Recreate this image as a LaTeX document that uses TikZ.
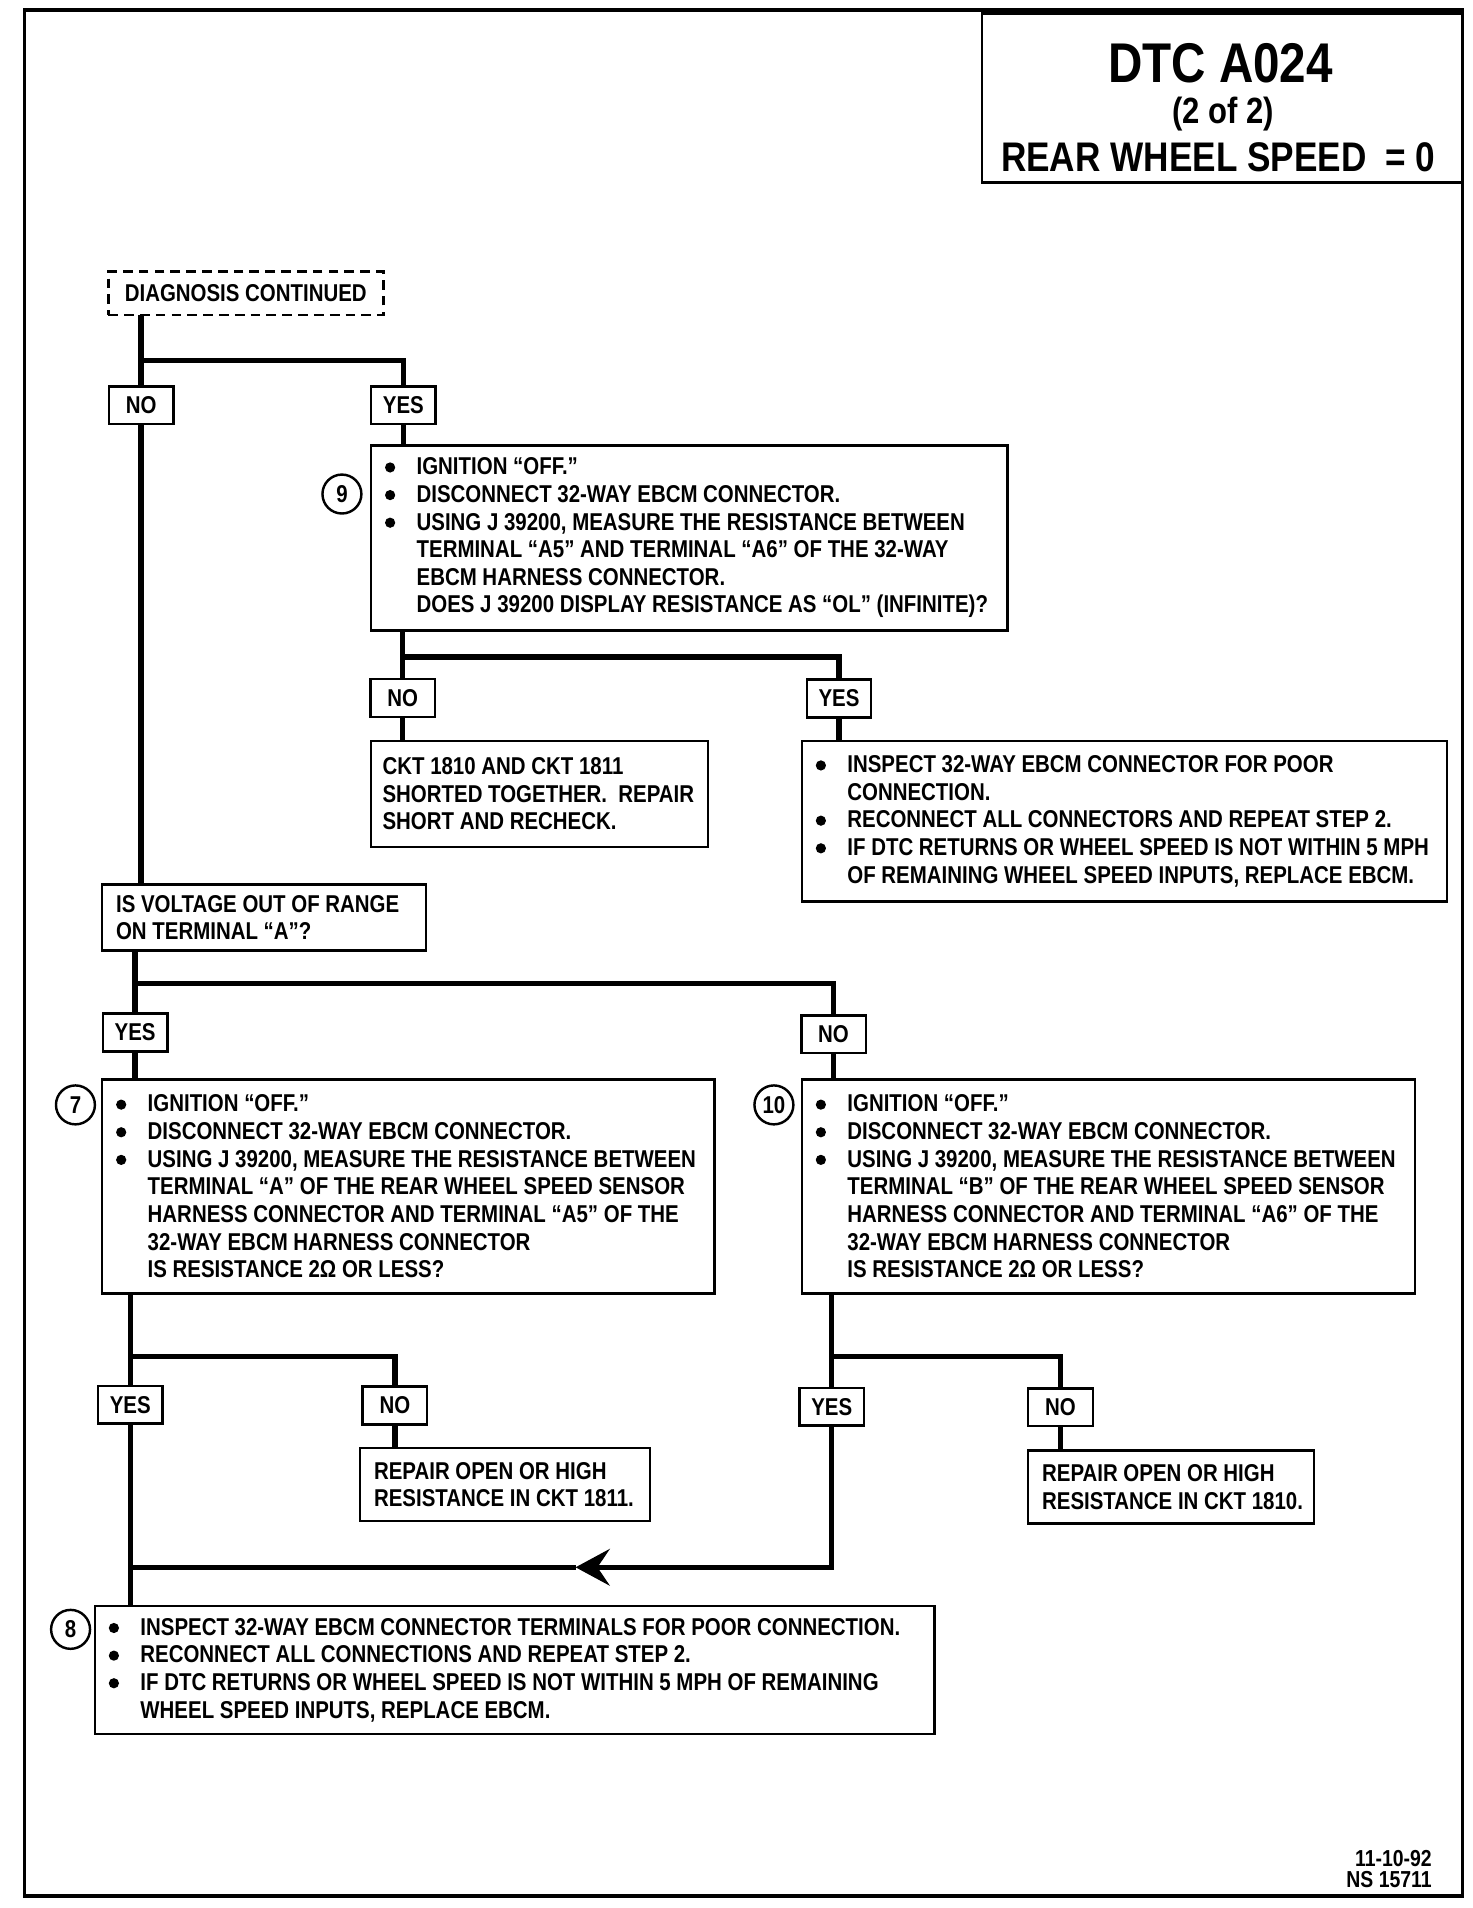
\documentclass[tikz,border=0pt]{standalone}
\usepackage{fontspec}
\newfontfamily\bodyf[FakeStretch=0.84]{Liberation Sans}
\newfontfamily\titlef[FakeStretch=0.85]{Liberation Sans}
\usetikzlibrary{arrows.meta}
\newcommand\bul{\makebox[13pt][l]{\tikz[baseline=0pt]\fill (2.2pt,3pt) circle (2.1pt);}}
\newcommand\indt{\hspace*{13pt}}
\newcommand\mkbox[5]{\node[box, minimum width={(#4-#2)*0.5pt}, minimum height={(#5-#3)*0.5pt}] (#1) at (#2,#3) {};}
\begin{document}
\begin{tikzpicture}[x=0.5pt,y=-0.5pt,
  every node/.style={font=\bodyf\bfseries\fontsize{10}{11.35}\selectfont},
  box/.style={draw, line width=1pt, inner sep=0pt, outer sep=0pt, anchor=north west},
  txt/.style={inner sep=0pt, align=left, anchor=west},
  lbl/.style={draw, line width=1pt, inner sep=0pt, outer sep=0pt, minimum width=26.5pt, minimum height=15.5pt},
  num/.style={draw, circle, line width=1pt, minimum size=16pt, inner sep=0pt},
  conn/.style={line width=2.2pt},
  ttl/.style={font=\titlef\bfseries\fontsize{#1}{#1}\selectfont, inner sep=0pt},
]
\useasboundingbox (0,0) rectangle (1210,1568);
% frame
\draw[line width=1.5pt] (20,8) rectangle (1202,1558);
% title
\mkbox{title}{807}{11}{1202}{150}
\node[ttl=23] (t1) at (1003,52) {DTC A024};
\node[ttl=15] (t2) at (1005,94) {(2 of 2)};
\node[ttl=17] (t3) at (1001,129) {REAR WHEEL SPEED\hspace{0.45em}= 0};
% diagnosis continued
\node[box, dashed, dash pattern=on 4pt off 2.5pt, minimum width=113pt, minimum height=18pt] (dc) at (89,223) {DIAGNOSIS CONTINUED};
% labels
\node[lbl] (no1) at (116,333) {NO};
\node[lbl] (yes1) at (331.5,333) {YES};
\node[lbl] (no2) at (331,573.5) {NO};
\node[lbl] (yes2) at (689.5,574) {YES};
\node[lbl] (yes3) at (111,848.5) {YES};
\node[lbl] (no3) at (685,850) {NO};
\node[lbl] (yes4) at (107,1154.5) {YES};
\node[lbl] (no4) at (324.5,1155) {NO};
\node[lbl] (yes5) at (683.5,1156) {YES};
\node[lbl] (no5) at (871.5,1156.5) {NO};
% boxes
\mkbox{s9}{305}{366}{828}{518}
\mkbox{r1}{305}{609}{582}{696}
\mkbox{r2}{659}{609}{1189}{741}
\mkbox{q}{84}{727}{350}{781}
\mkbox{s7}{84}{887}{587}{1063}
\mkbox{s10}{659}{887}{1163}{1063}
\mkbox{r3}{296}{1190}{534}{1250}
\mkbox{r4}{845}{1192}{1080}{1252}
\mkbox{s8}{78}{1320}{768}{1425}
% numbers
\node[num] (c9) at (281,406) {9};
\node[num] (c7) at (62,908) {7};
\node[num] (c10) at (636,908) {10};
\node[num] (c8) at (58,1339) {8};
% texts
\node[txt] (s9t) at ([xshift=5.5pt]s9.west) {\bul IGNITION “OFF.”\\
\bul DISCONNECT 32-WAY EBCM CONNECTOR.\\
\bul USING J 39200, MEASURE THE RESISTANCE BETWEEN\\
\indt TERMINAL “A5” AND TERMINAL “A6” OF THE 32-WAY\\
\indt EBCM HARNESS CONNECTOR.\\
\indt DOES J 39200 DISPLAY RESISTANCE AS “OL” (INFINITE)?};
\node[txt] (r1t) at ([xshift=4.5pt]r1.west) {CKT 1810 AND CKT 1811\\
SHORTED TOGETHER.~~REPAIR\\
SHORT AND RECHECK.};
\node[txt] (r2t) at ([xshift=5.5pt]r2.west) {\bul INSPECT 32-WAY EBCM CONNECTOR FOR POOR\\
\indt CONNECTION.\\
\bul RECONNECT ALL CONNECTORS AND REPEAT STEP 2.\\
\bul IF DTC RETURNS OR WHEEL SPEED IS NOT WITHIN 5 MPH\\
\indt OF REMAINING WHEEL SPEED INPUTS, REPLACE EBCM.};
\node[txt] (qt) at ([xshift=5.5pt]q.west) {IS VOLTAGE OUT OF RANGE\\
ON TERMINAL “A”?};
\node[txt] (s7t) at ([xshift=5.5pt]s7.west) {\bul IGNITION “OFF.”\\
\bul DISCONNECT 32-WAY EBCM CONNECTOR.\\
\bul USING J 39200, MEASURE THE RESISTANCE BETWEEN\\
\indt TERMINAL “A” OF THE REAR WHEEL SPEED SENSOR\\
\indt HARNESS CONNECTOR AND TERMINAL “A5” OF THE\\
\indt 32-WAY EBCM HARNESS CONNECTOR\\
\indt IS RESISTANCE 2Ω OR LESS?};
\node[txt] (s10t) at ([xshift=5.5pt]s10.west) {\bul IGNITION “OFF.”\\
\bul DISCONNECT 32-WAY EBCM CONNECTOR.\\
\bul USING J 39200, MEASURE THE RESISTANCE BETWEEN\\
\indt TERMINAL “B” OF THE REAR WHEEL SPEED SENSOR\\
\indt HARNESS CONNECTOR AND TERMINAL “A6” OF THE\\
\indt 32-WAY EBCM HARNESS CONNECTOR\\
\indt IS RESISTANCE 2Ω OR LESS?};
\node[txt] (r3t) at ([xshift=5.5pt]r3.west) {REPAIR OPEN OR HIGH\\
RESISTANCE IN CKT 1811.};
\node[txt] (r4t) at ([xshift=5.5pt]r4.west) {REPAIR OPEN OR HIGH\\
RESISTANCE IN CKT 1810.};
\node[txt] (s8t) at ([xshift=5.5pt]s8.west) {\bul INSPECT 32-WAY EBCM CONNECTOR TERMINALS FOR POOR CONNECTION.\\
\bul RECONNECT ALL CONNECTIONS AND REPEAT STEP 2.\\
\bul IF DTC RETURNS OR WHEEL SPEED IS NOT WITHIN 5 MPH OF REMAINING\\
\indt WHEEL SPEED INPUTS, REPLACE EBCM.};
% footer
\node[anchor=east, align=right, inner sep=0pt, font=\bodyf\bfseries\fontsize{9.5}{8.6}\selectfont] (ft) at (1177,1536) {11-10-92\\NS 15711};
% connectors
\coordinate (j1) at (116,296);
\draw[conn] (no1.north |- dc.south) -- (no1.north);
\draw[conn] (j1) -| (yes1.north);
\draw[conn] (no1.south) -- (no1.south |- q.north);
\draw[conn] (yes1.south) -- (yes1.south |- s9.north);
\coordinate (j2) at (331,540);
\draw[conn] (no2.north |- s9.south) -- (no2.north);
\draw[conn] (j2) -| (yes2.north);
\draw[conn] (no2.south) -- (no2.south |- r1.north);
\draw[conn] (yes2.south) -- (yes2.south |- r2.north);
\coordinate (j3) at (111,808);
\draw[conn] (yes3.north |- q.south) -- (yes3.north);
\draw[conn] (j3) -| (no3.north);
\draw[conn] (yes3.south) -- (yes3.south |- s7.north);
\draw[conn] (no3.south) -- (no3.south |- s10.north);
\coordinate (j4) at (107,1115);
\draw[conn] (yes4.north |- s7.south) -- (yes4.north);
\draw[conn] (j4) -| (no4.north);
\draw[conn] (no4.south) -- (no4.south |- r3.north);
\draw[conn] (yes4.south) -- (yes4.south |- s8.north);
\coordinate (j5) at (683.5,1115);
\draw[conn] (yes5.north |- s10.south) -- (yes5.north);
\draw[conn] (j5) -| (no5.north);
\draw[conn] (no5.south) -- (no5.south |- r4.north);
\coordinate (arr) at (473,1288);
\draw[conn, -{Stealth[length=14pt, width=15pt, inset=5pt]}] (yes5.south) |- (arr);
\draw[conn] (arr) -- (yes4.south |- arr);
\end{tikzpicture}
\end{document}
